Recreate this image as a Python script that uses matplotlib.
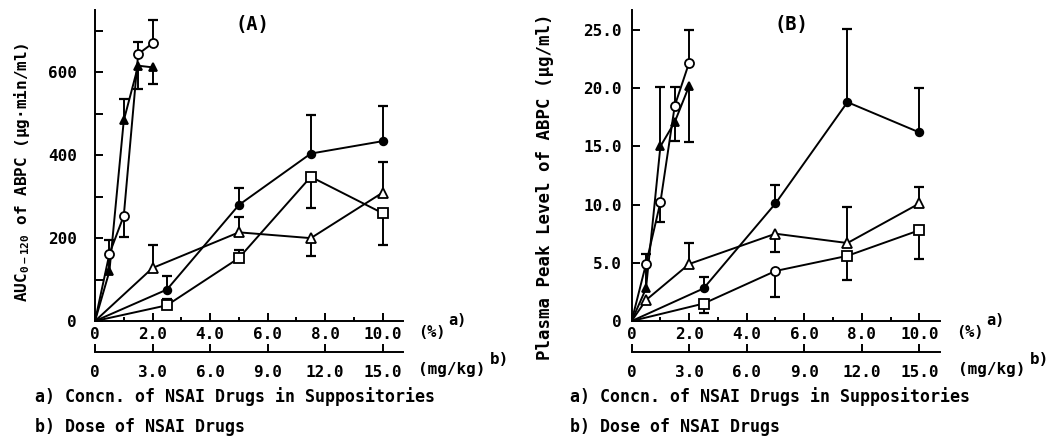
import numpy as np
import matplotlib.pyplot as plt

plt.rcParams["font.family"] = "DejaVu Sans Mono"
plt.rcParams["font.weight"] = "bold"
plt.rcParams["mathtext.fontset"] = "custom"
plt.rcParams["mathtext.rm"] = "DejaVu Sans Mono:bold"
plt.rcParams["mathtext.default"] = "rm"

nan = np.nan

## x values, concentration in suppository (%) ##
x_main = [0, 2.5, 5.0, 7.5, 10.0]
x_tri_A = [0, 2.0, 5.0, 7.5, 10.0]
x_tri_B = [0, 0.5, 2.0, 5.0, 7.5, 10.0]
x_steep = [0, 0.5, 1.0, 1.5, 2.0]

## panel A: AUC 0-120 of ABPC (ug.min/ml), err = end of the one-sided error bar ##
aucA_fcirc = [0, 76, 280, 404, 434]
aucA_fcirc_err = [nan, 108, 320, 496, 518]
aucA_otri = [0, 128, 214, 200, 310]
aucA_otri_err = [nan, 184, 252, 158, 384]
aucA_osq = [0, 38, 152, 348, 260]
aucA_osq_err = [nan, 52, 172, 272, 184]
aucA_ocirc = [0, 162, 254, 644, 670]
aucA_ocirc_err = [nan, nan, 203, 674, 726]
aucA_ftri = [0, 120, 484, 616, 612]
aucA_ftri_err = [nan, 196, 536, 560, 572]

## panel B: plasma peak level of ABPC (ug/ml) ##
cmaxB_fcirc = [0, 2.8, 10.1, 18.8, 16.2]
cmaxB_fcirc_err = [nan, 3.8, 11.7, 25.1, 20.0]
cmaxB_otri = [0, 1.8, 4.9, 7.5, 6.7, 10.1]
cmaxB_otri_err = [nan, nan, 6.7, 5.9, 9.8, 11.5]
cmaxB_osq = [0, 1.5, 4.3, 5.6, 7.8]
cmaxB_osq_err = [nan, 0.7, 2.1, 3.5, 5.3]
cmaxB_osq_marks = [None, "s", "o", "s", "s"]
cmaxB_ocirc = [0, 4.9, 10.2, 18.5, 22.2]
cmaxB_ocirc_err = [nan, nan, 8.5, 20.1, 25.0]
cmaxB_ftri = [0, 2.8, 15.0, 17.1, 20.2]
cmaxB_ftri_err = [nan, 5.8, 20.1, 15.5, 15.4]

ticks_pct = [0, 2, 4, 6, 8, 10]
ticklabels_pct = ["0", "2.0", "4.0", "6.0", "8.0", "10.0"]
ticks_dose = [0, 3, 6, 9, 12, 15]
ticklabels_dose = ["0", "3.0", "6.0", "9.0", "12.0", "15.0"]
ticks_A = [0, 200, 400, 600]
ticklabels_A = ["0", "200", "400", "600"]
ticks_B = [0, 5, 10, 15, 20, 25]
ticklabels_B = ["0", "5.0", "10.0", "15.0", "20.0", "25.0"]

MSIZE = {"o": 6.5, "s": 6.5, "^": 7.0}


def draw_series(ax, x, y, err, marker, filled, marks=None):
    ax.plot(x, y, color="k", lw=1.4, zorder=2)
    if marks is None:
        marks = [None] + [marker] * (len(x) - 1)
    for xi, yi, ei, m in zip(x, y, err, marks):
        if not np.isnan(ei):
            ax.vlines(xi, yi, ei, color="k", lw=1.4, zorder=1)
            ax.plot(xi, ei, marker="_", ms=7, mew=1.6, color="k", zorder=1)
        if m is None:
            continue
        ms = MSIZE[m] - (1.0 if filled else 0)
        ax.plot(xi, yi, marker=m, ms=ms, mew=1.3, mec="k",
                mfc="k" if filled else "white", zorder=3)


def style_axes(ax, ymax, yticks, yticklabels, ypad, yminor=None):
    for s in ["top", "right"]:
        ax.spines[s].set_visible(False)
    for s in ["left", "bottom"]:
        ax.spines[s].set_linewidth(1.4)
    ax.set_xlim(0, 10.7)
    ax.set_ylim(0, ymax)
    ax.set_xticks(ticks_pct)
    ax.set_xticklabels(ticklabels_pct)
    ax.set_xticks([1, 3, 5, 7, 9], minor=True)
    ax.set_yticks(yticks)
    ax.set_yticklabels(yticklabels)
    if yminor is not None:
        ax.set_yticks(yminor, minor=True)
    ax.tick_params(axis="both", which="major", direction="in", length=5.5,
                   width=1.4, labelsize=11.5)
    ax.tick_params(axis="x", which="major", pad=4)
    ax.tick_params(axis="y", which="major", pad=ypad)
    ax.tick_params(axis="x", which="minor", direction="in", length=3, width=1.4)
    ax.tick_params(axis="y", which="minor", direction="in", length=5.5, width=1.4)

    sec = ax.secondary_xaxis(-0.1, functions=(lambda v: v * 1.5, lambda v: v / 1.5))
    sec.spines["bottom"].set_linewidth(1.4)
    sec.set_xticks(ticks_dose)
    sec.set_xticklabels(ticklabels_dose)
    sec.tick_params(direction="in", length=5.5, width=1.4, labelsize=11.5, pad=9)


fig = plt.figure(figsize=(10.58, 4.41), dpi=100)
axA = fig.add_axes([0.0898, 0.272, 0.291, 0.705])
axB = fig.add_axes([0.597, 0.272, 0.291, 0.705])

## panel A ##
draw_series(axA, x_main, aucA_fcirc, aucA_fcirc_err, "o", True)
draw_series(axA, x_tri_A, aucA_otri, aucA_otri_err, "^", False)
draw_series(axA, x_main, aucA_osq, aucA_osq_err, "s", False)
draw_series(axA, x_steep, aucA_ocirc, aucA_ocirc_err, "o", False)
draw_series(axA, x_steep, aucA_ftri, aucA_ftri_err, "^", True)
style_axes(axA, 750, ticks_A, ticklabels_A, 13, yminor=[100, 300, 500, 700])
axA.text(0.51, 0.955, "(A)", transform=axA.transAxes, fontsize=13.5,
         ha="center", va="center")

## panel B ##
draw_series(axB, x_main, cmaxB_fcirc, cmaxB_fcirc_err, "o", True)
draw_series(axB, x_tri_B, cmaxB_otri, cmaxB_otri_err, "^", False)
draw_series(axB, x_main, cmaxB_osq, cmaxB_osq_err, "s", False, marks=cmaxB_osq_marks)
draw_series(axB, x_steep, cmaxB_ocirc, cmaxB_ocirc_err, "o", False)
draw_series(axB, x_steep, cmaxB_ftri, cmaxB_ftri_err, "^", True)
style_axes(axB, 26.7, ticks_B, ticklabels_B, 7)
axB.text(0.52, 0.955, "(B)", transform=axB.transAxes, fontsize=13.5,
         ha="center", va="center")

## axis titles and unit labels ##
fig.text(0.021, 0.61, "AUC$_{0-120}$ of ABPC (\u00b5g\u00b7min/ml)", rotation=90,
         ha="center", va="center", fontsize=11.5)
fig.text(0.515, 0.576, "Plasma Peak Level of ABPC (\u00b5g/ml)", rotation=90,
         ha="center", va="center", fontsize=12.5)

for x0, xs in [(0.395, 0.424), (0.9035, 0.932)]:
    fig.text(x0, 0.247, "(%)", ha="left", va="center", fontsize=11)
    fig.text(xs, 0.274, "a)", ha="left", va="center", fontsize=11)
for x0, xs in [(0.395, 0.463), (0.9055, 0.9735)]:
    fig.text(x0, 0.161, "(mg/kg)", ha="left", va="center", fontsize=11.5)
    fig.text(xs, 0.184, "b)", ha="left", va="center", fontsize=11.5)

for x0 in [0.033, 0.539]:
    fig.text(x0, 0.1, "a) Concn. of NSAI Drugs in Suppositories",
             ha="left", va="center", fontsize=12)
    fig.text(x0, 0.032, "b) Dose of NSAI Drugs", ha="left", va="center",
             fontsize=12)

fig.savefig("out.png", dpi=100)
